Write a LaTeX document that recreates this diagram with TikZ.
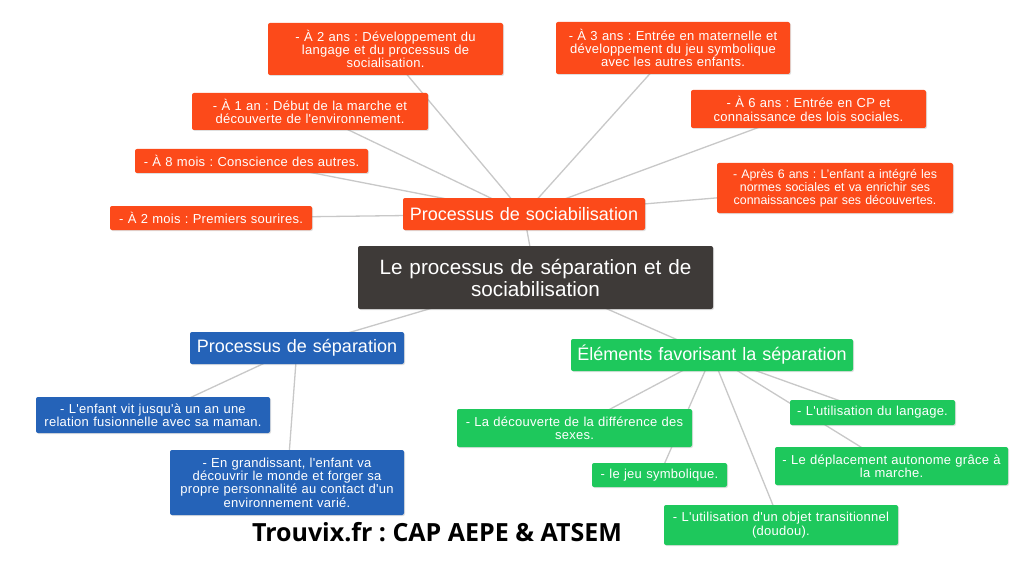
\documentclass[tikz,border=0pt]{standalone}
\usepackage{fontspec}
\setmainfont{Liberation Sans}
\newfontfamily\titlefont{Open Sans}
\newfontfamily\smallfont[LetterSpace=2]{Liberation Sans}
\frenchspacing
\usetikzlibrary{backgrounds,shadows}
\definecolor{corange}{RGB}{252,74,26}
\definecolor{cblue}{RGB}{37,99,184}
\definecolor{cgreen}{RGB}{30,200,92}
\definecolor{cdark}{RGB}{62,58,56}
\definecolor{cline}{RGB}{200,200,200}
\tikzset{
  box/.style={rounded corners=2pt, text=white, align=center, inner xsep=4pt, inner ysep=0pt,
    drop shadow={opacity=0.25, shadow xshift=1pt, shadow yshift=-1pt},
    font=\smallfont\fontsize{13}{13.3}\selectfont},
  obox/.style={box, fill=corange},
  bbox/.style={box, fill=cblue},
  gbox/.style={box, fill=cgreen},
  mid/.style={font=\fontsize{18}{20}\selectfont},
  conn/.style={draw=cline, line width=1.3pt},
}
\begin{document}
\begin{tikzpicture}[x=1pt,y=-1pt]
\useasboundingbox (0,0) rectangle (1024,564);
% root
\node[box, fill=cdark, text width=347pt, minimum height=63pt, font=\fontsize{20.7}{22}\selectfont] (root) at (535.5,277.5) {Le processus de séparation et de\\sociabilisation};
% sociabilisation
\node[obox, mid, text width=234pt, minimum height=32pt] (soc) at (524,214) {Processus de sociabilisation};
\node[obox, text width=194pt, minimum height=24pt] (m2) at (211,218) {- À 2 mois : Premiers sourires.};
\node[obox, text width=225pt, minimum height=24pt] (m8) at (251.5,161) {- À 8 mois : Conscience des autres.};
\node[obox, text width=228pt, minimum height=37pt] (a1) at (310,111.5) {- À 1 an : Début de la marche et\\découverte de l'environnement.};
\node[obox, text width=227pt, minimum height=52pt] (a2) at (385.5,49) {- À 2 ans : Développement du\\langage et du processus de\\socialisation.};
\node[obox, text width=226pt, minimum height=52pt] (a3) at (673,48) {- À 3 ans : Entrée en maternelle et\\développement du jeu symbolique\\avec les autres enfants.};
\node[obox, text width=227pt, minimum height=38pt] (a6) at (808.5,109) {- À 6 ans : Entrée en CP et\\connaissance des lois sociales.};
\node[obox, text width=228pt, minimum height=50pt, font=\fontsize{12.4}{12.8}\selectfont] (ap6) at (835,188) {- Après 6 ans : L'enfant a intégré les\\normes sociales et va enrichir ses\\connaissances par ses découvertes.};
% separation
\node[bbox, mid, text width=206pt, minimum height=32pt] (sep) at (297,348) {Processus de séparation};
\node[bbox, text width=226pt, minimum height=36pt] (fus) at (153,415) {- L'enfant vit jusqu'à un an une\\relation fusionnelle avec sa maman.};
\node[bbox, text width=226pt, minimum height=65pt] (gra) at (287,482.5) {- En grandissant, l'enfant va\\découvrir le monde et forger sa\\propre personnalité au contact d'un\\environnement varié.};
% elements
\node[gbox, mid, text width=274pt, minimum height=32pt] (ele) at (712,355) {Éléments favorisant la séparation};
\node[gbox, text width=227pt, minimum height=38pt] (dec) at (574.5,428) {- La découverte de la différence des\\sexes.};
\node[gbox, text width=127pt, minimum height=24pt] (jeu) at (659.5,475) {- le jeu symbolique.};
\node[gbox, text width=157pt, minimum height=25pt] (lan) at (872.5,412.5) {- L'utilisation du langage.};
\node[gbox, text width=225pt, minimum height=38pt] (dep) at (891.5,466) {- Le déplacement autonome grâce à\\la marche.};
\node[gbox, text width=226pt, minimum height=40pt] (obj) at (781,525) {- L'utilisation d'un objet transitionnel\\(doudou).};
% title
\node[font=\titlefont\bfseries\fontsize{25}{27}\selectfont, text=black, inner sep=0pt] (title) at (437,532) {Trouvix.fr : CAP AEPE \& ATSEM};
\begin{scope}[on background layer]
\fill[white] (0,0) rectangle (1024,564);
\draw[conn] (root.center) -- (soc.center);
\draw[conn] (root.center) -- (sep.center);
\draw[conn] (root.center) -- (ele.center);
\foreach \n in {m2,m8,a1,a2,a3,a6,ap6} \draw[conn] (soc.center) -- (\n.center);
\foreach \n in {fus,gra} \draw[conn] (sep.center) -- (\n.center);
\foreach \n in {dec,jeu,lan,dep,obj} \draw[conn] (ele.center) -- (\n.center);
\end{scope}
\end{tikzpicture}
\end{document}
